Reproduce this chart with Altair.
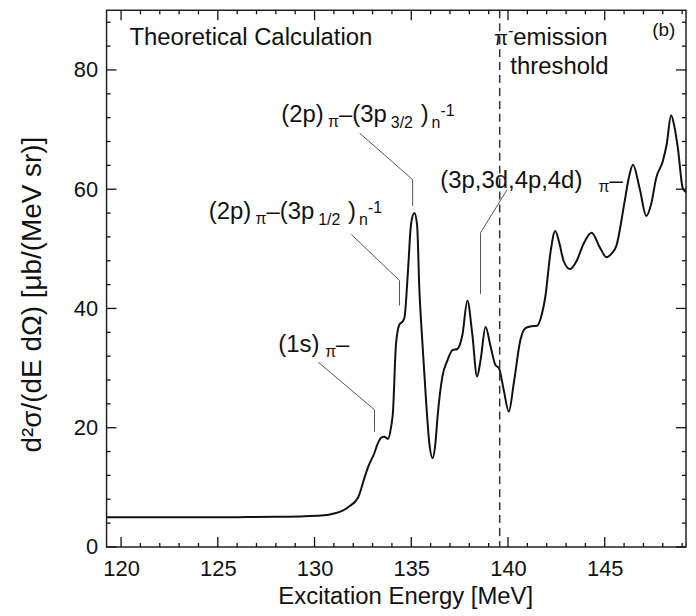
import altair as alt
import pandas as pd

# ---------------- data ----------------
energy = [119.25, 122.0, 126.0, 128.0, 129.5, 130.5, 131.0, 131.4, 131.75, 132.25,
          132.6, 132.78, 133.1, 133.25, 133.44, 133.6, 133.8, 133.95, 134.05, 134.21,
          134.39, 134.55, 134.65, 134.82, 134.99, 135.16, 135.3, 135.42, 135.55, 135.76,
          135.93, 136.1, 136.25, 136.36, 136.61, 136.87, 137.13, 137.38, 137.64, 137.9,
          138.15, 138.4, 138.58, 138.84, 139.1, 139.35, 139.53, 139.78, 140.04, 140.3,
          140.64, 140.9, 141.2, 141.5, 141.76, 141.93, 142.2, 142.44, 142.65, 142.87,
          143.21, 143.55, 143.9, 144.32, 144.75, 145.09, 145.35, 145.6, 146.03, 146.25,
          146.46, 146.8, 147.15, 147.4, 147.66, 148.0, 148.2, 148.43, 148.6, 148.78,
          149.03, 149.2]
xsec = [5.0, 5.0, 5.0, 5.05, 5.15, 5.3, 5.6, 6.0, 6.7, 8.3,
        11.8, 13.5, 15.8, 17.2, 18.3, 18.5, 18.1, 20.0, 22.5, 34.0,
        37.3, 37.8, 38.5, 45.8, 54.2, 56.0, 54.0, 43.0, 35.5, 24.7,
        17.5, 14.9, 17.5, 21.9, 28.6, 31.3, 33.0, 33.2, 35.5, 41.3,
        35.8, 28.6, 31.3, 36.9, 33.6, 30.5, 30.0, 26.3, 22.7, 27.5,
        34.7, 36.7, 37.0, 37.1, 39.2, 42.0, 49.5, 53.0, 51.0, 48.0,
        46.6, 48.0, 50.8, 52.7, 50.2, 48.6, 49.2, 50.5, 58.0, 62.0,
        64.1, 60.2, 55.5, 57.5, 61.9, 64.7, 67.5, 72.4, 70.5, 66.9,
        60.2, 59.5]

x_major = [120, 125, 130, 135, 140, 145]
x_minor = [121, 122, 123, 124, 126, 127, 128, 129, 131, 132, 133, 134, 136, 137,
           138, 139, 141, 142, 143, 144, 146, 147, 148, 149]
y_major = [0, 20, 40, 60, 80]
y_minor = [4, 8, 12, 16, 24, 28, 32, 36, 44, 48, 52, 56, 64, 68, 72, 76, 84, 88]

threshold_energy = [139.57]

leader_id = ["1s", "1s", "1s", "p12", "p12", "p12", "p32", "p32", "p32", "hi", "hi", "hi"]
leader_e = [130.19, 133.1, 133.1, 131.9, 134.39, 134.39, 132.33, 135.07, 135.07,
            139.95, 138.58, 138.58]
leader_v = [31.0, 23.0, 19.3, 52.4, 44.7, 40.5, 69.4, 61.6, 57.2, 59.9, 52.7, 42.4]
leader_order = [0, 1, 2, 0, 1, 2, 0, 1, 2, 0, 1, 2]

# ---------------- layout ----------------
W, H = 582, 539
FONT = "Liberation Sans"
INK = "#111111"
M, S = 24, 16

xs = alt.Scale(domain=[119.25, 149.2], nice=False, zero=False)
ys = alt.Scale(domain=[0, 90], nice=False, zero=False)

x_axis = alt.Axis(
    values=x_major, title="Excitation Energy [MeV]", grid=False, domain=False,
    ticks=False, labelFont=FONT, labelFontSize=22, labelColor=INK, labelPadding=12,
    titleFont=FONT, titleFontSize=24, titleFontWeight="normal", titleColor=INK,
    titlePadding=5, titleX=300, format="d")
y_axis = alt.Axis(
    values=y_major, title="d²σ/(dE dΩ) [μb/(MeV sr)]", grid=False, domain=False,
    ticks=False, labelFont=FONT, labelFontSize=22, labelColor=INK, labelPadding=9,
    titleFont=FONT, titleFontSize=28, titleFontWeight="normal", titleColor=INK,
    titlePadding=27, titleY=285, format="d")


def X(field="E"):
    return alt.X(f"{field}:Q", scale=xs, axis=x_axis)


def Y(field="v"):
    return alt.Y(f"{field}:Q", scale=ys, axis=y_axis)


curve_df = pd.DataFrame({"E": energy, "v": xsec})

curve = alt.Chart(curve_df).mark_line(
    color=INK, strokeWidth=2, interpolate="monotone"
).encode(x=X(), y=Y())


def xticks(values, y0, y1):
    return alt.Chart(pd.DataFrame({"E": values})).mark_rule(
        color=INK, strokeWidth=1.3
    ).encode(x=X(), y=alt.value(y0), y2=alt.value(y1))


def yticks(values, x0, x1):
    return alt.Chart(pd.DataFrame({"v": values})).mark_rule(
        color=INK, strokeWidth=1.3
    ).encode(y=Y(), x=alt.value(x0), x2=alt.value(x1))


ticks = [
    xticks(x_major, H, H - 10), xticks(x_minor, H, H - 4),
    xticks(x_major, 0, 10), xticks(x_minor, 0, 4),
    yticks(y_major, 0, 10), yticks(y_minor, 0, 4),
    yticks(y_major, W, W - 10), yticks(y_minor, W, W - 4),
]

threshold = alt.Chart(pd.DataFrame({"E": threshold_energy})).mark_rule(
    color="#333333", strokeWidth=1.5, strokeDash=[8, 5]
).encode(x=X())

leaders = alt.Chart(pd.DataFrame({
    "id": leader_id, "E": leader_e, "v": leader_v, "o": leader_order
})).mark_line(color="#555555", strokeWidth=1).encode(
    x=X(), y=Y(), detail="id:N", order="o:Q",
)


def txt(text, e, v, size=M, dx=0, dy=0):
    return alt.Chart(pd.DataFrame({"E": [e], "v": [v], "t": [text]})).mark_text(
        align="left", baseline="alphabetic", dx=dx, dy=dy, fontSize=size,
        font=FONT, color=INK
    ).encode(x=X(), y=Y(), text="t:N")


def two_p_label(frac, e, v):
    return [
        txt("(2p)", e, v, M, 0),
        txt("π", e, v, S, 47, 5),
        txt("–(3p", e, v, M, 58),
        txt(frac, e, v, S, 110, 6),
        txt(")", e, v, M, 140),
        txt("n", e, v, S, 151, 6),
        txt("-1", e, v, S, 160, -6),
    ]


texts = [
    txt("Theoretical Calculation", 120.43, 84.2),
    txt("π", 139.29, 84.2, 20),
    txt("-", 139.29, 84.2, S, 14, -9),
    txt("emission", 140.27, 84.2, M),
    txt("threshold", 140.12, 79.3, M),
    txt("(b)", 147.45, 85.7, 19),
    txt("(1s)", 128.13, 32.7, M),
    txt("π", 128.13, 32.7, S, 47, 5),
    txt("–", 128.13, 32.7, M, 58),
    txt("(3p,3d,4p,4d)", 136.5, 60.2, M),
    txt("π", 136.5, 60.2, S, 159, 4),
    txt("–", 136.5, 60.2, M, 170),
] + two_p_label("3/2", 128.28, 71.3) + two_p_label("1/2", 124.53, 55.0)

chart = alt.layer(
    curve, *ticks, threshold, leaders, *texts
).properties(
    width=W, height=H,
    autosize=alt.AutoSizeParams(type="none"),
    padding={"left": 99, "top": 1, "right": 2, "bottom": 62},
    background="white",
).configure_view(stroke="#222222", strokeWidth=1.5)

chart.save("out.html", embed_options={"renderer": "svg", "actions": False})
